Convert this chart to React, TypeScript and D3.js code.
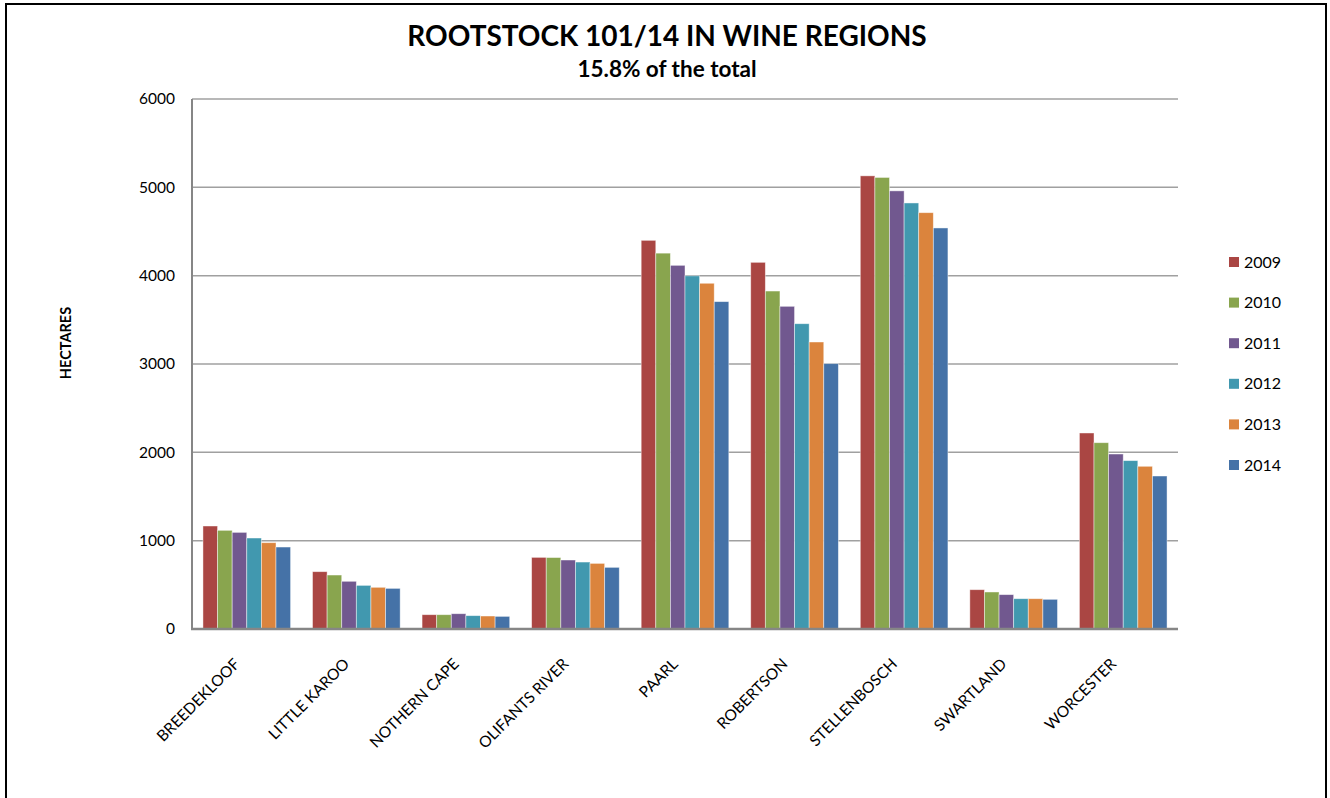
import React from "react";
import * as d3 from "d3";

const regions = [
  "BREEDEKLOOF",
  "LITTLE KAROO",
  "NOTHERN CAPE",
  "OLIFANTS RIVER",
  "PAARL",
  "ROBERTSON",
  "STELLENBOSCH",
  "SWARTLAND",
  "WORCESTER",
];
const years = ["2009", "2010", "2011", "2012", "2013", "2014"];
const v2009 = [1166, 649, 162, 811, 4400, 4151, 5130, 445, 2219];
const v2010 = [1117, 611, 162, 809, 4255, 3826, 5112, 419, 2109];
const v2011 = [1094, 540, 173, 781, 4117, 3653, 4960, 389, 1981];
const v2012 = [1030, 494, 151, 758, 3998, 3456, 4823, 343, 1906];
const v2013 = [977, 472, 147, 743, 3914, 3249, 4713, 343, 1842];
const v2014 = [928, 460, 143, 698, 3706, 3004, 4540, 336, 1732];
const seriesValues = [v2009, v2010, v2011, v2012, v2013, v2014];
const colors = ["#AA4643", "#89A54E", "#71588F", "#4198AF", "#DB843D", "#4572A7"];
const yTicks = [0, 1000, 2000, 3000, 4000, 5000, 6000];

const W = 1330;
const H = 798;
const left = 192;
const right = 1178;
const top = 99;
const bottom = 629;
const FONT = "Lato, 'Open Sans', sans-serif";

export default function App() {
  const x0 = d3
    .scaleBand<string>()
    .domain(regions)
    .range([left, right])
    .paddingInner(0.2)
    .paddingOuter(0.1);
  const x1 = d3.scaleBand<string>().domain(years).range([0, x0.bandwidth()]).padding(0);
  const y = d3.scaleLinear().domain([0, 6000]).range([bottom, top]);
  const step = (right - left) / regions.length;

  return (
    <div style={{ position: "absolute", left: 0, top: 0 }}>
      <svg width={W} height={H} style={{ display: "block", background: "#fff" }}>
        <rect x={6} y={4} width={1320} height={820} fill="#fff" stroke="#000" strokeWidth={2} />
        <text x={667} y={46} textAnchor="middle" fontFamily={FONT} fontWeight={700} fontSize={28} fill="#000">
          ROOTSTOCK 101/14 IN WINE REGIONS
        </text>
        <text x={667} y={77} textAnchor="middle" fontFamily={FONT} fontWeight={700} fontSize={22.5} fill="#000">
          15.8% of the total
        </text>
        {/* gridlines */}
        {yTicks.slice(1).map((t) => (
          <line key={t} x1={left} x2={right} y1={y(t)} y2={y(t)} stroke="#a0a0a0" strokeWidth={1.5} />
        ))}
        {/* y tick labels */}
        {yTicks.map((t) => (
          <text key={t} x={175} y={y(t)} dy="0.35em" textAnchor="end" fontFamily={FONT} fontSize={15.5} fill="#000">
            {t}
          </text>
        ))}
        {/* bars */}
        {regions.map((r, i) => (
          <g key={r} transform={`translate(${x0(r)},0)`}>
            {years.map((yr, j) => {
              const v = seriesValues[j][i];
              return (
                <rect
                  key={yr}
                  x={x1(yr)}
                  y={y(v)}
                  width={x1.bandwidth()}
                  height={bottom - y(v)}
                  fill={colors[j]}
                  stroke="rgba(255,255,255,0.55)"
                  strokeWidth={0.8}
                />
              );
            })}
          </g>
        ))}
        {/* axes */}
        <line x1={left} x2={left} y1={top} y2={bottom + 1} stroke="#868686" strokeWidth={2} />
        <line x1={left - 1} x2={right} y1={bottom} y2={bottom} stroke="#868686" strokeWidth={2.5} />
        {/* x labels */}
        {regions.map((r, i) => {
          const cx = left + step * (i + 0.5);
          return (
            <text
              key={r}
              transform={`translate(${cx - 6},${665}) rotate(-45)`}
              textAnchor="end"
              fontFamily={FONT}
              fontSize={15.5}
              fill="#000"
            >
              {r}
            </text>
          );
        })}
        {/* y axis title */}
        <text
          transform={`translate(71,343) rotate(-90)`}
          textAnchor="middle"
          fontFamily={FONT}
          fontWeight={700}
          fontSize={14.5}
          fill="#000"
        >
          HECTARES
        </text>
        {/* legend */}
        {years.map((yr, j) => (
          <g key={yr} transform={`translate(1229,${262 + j * 40.6})`}>
            <rect x={0} y={-5} width={10} height={10} fill={colors[j]} />
            <text x={15} y={0} dy="0.35em" fontFamily={FONT} fontSize={16} fill="#000">
              {yr}
            </text>
          </g>
        ))}
      </svg>
    </div>
  );
}
